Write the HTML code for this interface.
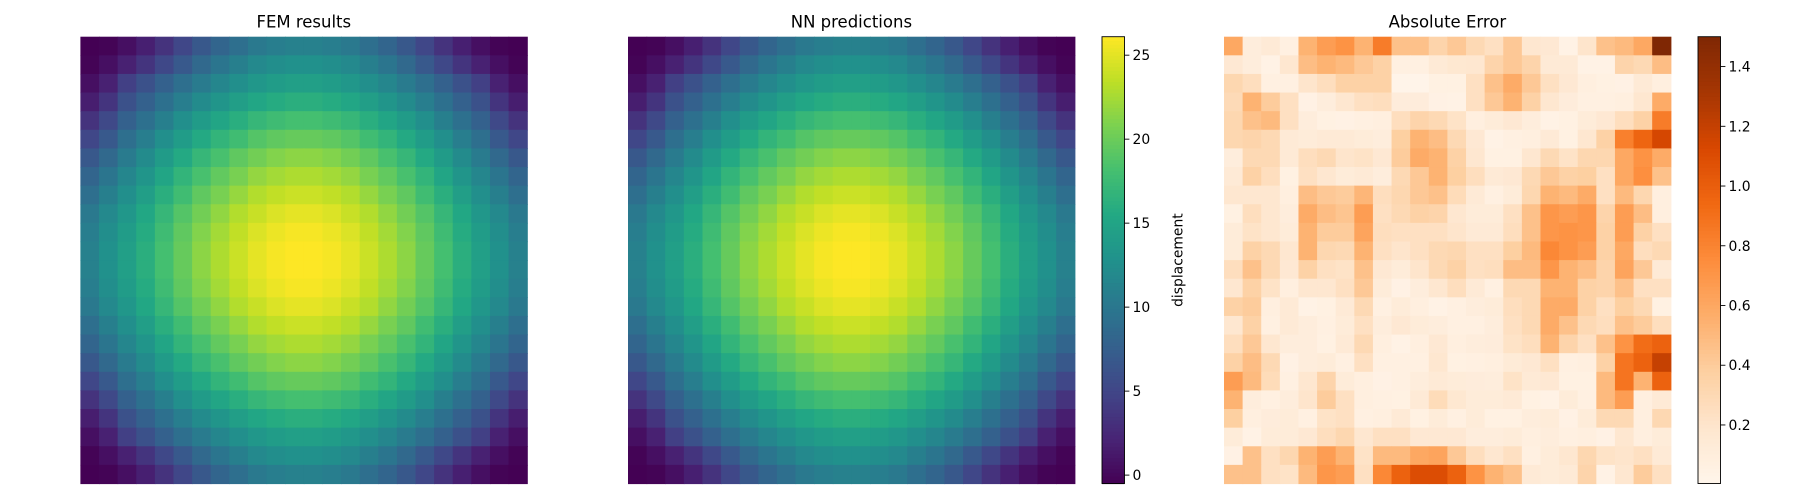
<!DOCTYPE html>
<html><head><meta charset="utf-8"><style>
html,body{margin:0;padding:0;background:#fff}
svg{display:block;font-family:"DejaVu Sans","Liberation Sans",sans-serif}
</style></head><body>
<svg id="fig" width="1800" height="500" viewBox="0 0 1800 500"></svg>
<script>
const femValues = [
[-0.5,-0.3,0.6,1.8,3.4,5.1,6.8,8.1,9.2,10.2,10.8,11.1,11.1,10.8,10.2,9.2,8.1,6.8,5.1,3.4,1.8,0.6,-0.3,-0.5],
[-0.3,0.6,1.9,3.5,5.2,6.9,8.5,9.8,10.9,11.9,12.5,12.8,12.8,12.5,11.9,10.9,9.8,8.5,6.9,5.2,3.5,1.9,0.6,-0.3],
[0.6,1.9,4.5,6.1,7.7,9.2,10.5,11.6,12.6,13.5,14.1,14.4,14.4,14.1,13.5,12.6,11.6,10.5,9.2,7.7,6.1,4.5,1.9,0.6],
[1.7,3.5,6.1,7.7,9.3,10.8,12.2,13.3,14.3,15.2,15.8,16.2,16.2,15.8,15.2,14.3,13.3,12.2,10.8,9.3,7.7,6.1,3.5,1.7],
[3.4,5.3,7.7,9.3,10.9,12.6,14.0,15.1,16.1,17.1,17.7,18.1,18.1,17.7,17.1,16.1,15.1,14.0,12.6,10.9,9.3,7.7,5.3,3.4],
[5.1,6.9,9.2,10.8,12.6,14.1,15.6,16.8,17.8,18.9,19.5,19.8,19.8,19.5,18.9,17.8,16.8,15.6,14.1,12.6,10.8,9.2,6.9,5.1],
[6.8,8.5,10.5,12.2,14.0,15.6,17.1,18.3,19.5,20.4,21.1,21.5,21.5,21.1,20.4,19.5,18.3,17.1,15.6,14.0,12.2,10.5,8.5,6.8],
[8.1,9.8,11.6,13.3,15.1,16.8,18.3,19.6,20.7,21.8,22.4,22.8,22.8,22.4,21.8,20.7,19.6,18.3,16.8,15.1,13.3,11.6,9.8,8.1],
[9.2,10.9,12.6,14.3,16.2,17.8,19.5,20.7,21.9,23.0,23.6,24.0,24.0,23.6,23.0,21.9,20.7,19.5,17.8,16.2,14.3,12.6,10.9,9.2],
[10.2,11.9,13.5,15.3,17.1,18.9,20.4,21.7,23.0,23.9,24.7,25.1,25.1,24.7,23.9,23.0,21.7,20.4,18.9,17.1,15.3,13.5,11.9,10.2],
[10.8,12.5,14.1,15.8,17.7,19.5,21.1,22.4,23.6,24.7,25.4,25.8,25.8,25.4,24.7,23.6,22.4,21.1,19.5,17.7,15.8,14.1,12.5,10.8],
[11.1,12.8,14.4,16.2,18.1,19.8,21.5,22.8,24.0,25.1,25.8,26.1,26.1,25.8,25.1,24.0,22.8,21.5,19.8,18.1,16.2,14.4,12.8,11.1],
[11.1,12.8,14.4,16.2,18.1,19.8,21.5,22.8,24.0,25.1,25.8,26.1,26.1,25.8,25.1,24.0,22.8,21.5,19.8,18.1,16.2,14.4,12.8,11.1],
[10.8,12.5,14.1,15.8,17.7,19.5,21.1,22.4,23.6,24.7,25.4,25.8,25.8,25.4,24.7,23.6,22.4,21.1,19.5,17.7,15.8,14.1,12.5,10.8],
[10.2,11.9,13.5,15.3,17.1,18.9,20.4,21.7,23.0,23.9,24.7,25.1,25.1,24.7,23.9,23.0,21.7,20.4,18.9,17.1,15.3,13.5,11.9,10.2],
[9.2,10.9,12.6,14.3,16.2,17.8,19.5,20.7,21.9,23.0,23.6,24.0,24.0,23.6,23.0,21.9,20.7,19.5,17.8,16.2,14.3,12.6,10.9,9.2],
[8.1,9.8,11.6,13.3,15.1,16.8,18.3,19.6,20.7,21.8,22.4,22.8,22.8,22.4,21.8,20.7,19.6,18.3,16.8,15.1,13.3,11.6,9.8,8.1],
[6.8,8.5,10.5,12.2,14.0,15.6,17.1,18.3,19.5,20.4,21.1,21.5,21.5,21.1,20.4,19.5,18.3,17.1,15.6,14.0,12.2,10.5,8.5,6.8],
[5.1,6.9,9.2,10.8,12.6,14.1,15.6,16.8,17.8,18.9,19.5,19.8,19.8,19.5,18.9,17.8,16.8,15.6,14.1,12.6,10.8,9.2,6.9,5.1],
[3.4,5.3,7.7,9.3,10.9,12.6,14.0,15.1,16.1,17.1,17.7,18.1,18.1,17.7,17.1,16.1,15.1,14.0,12.6,10.9,9.3,7.7,5.3,3.4],
[1.7,3.5,6.1,7.7,9.3,10.8,12.2,13.3,14.3,15.2,15.8,16.2,16.2,15.8,15.2,14.3,13.3,12.2,10.8,9.3,7.7,6.1,3.5,1.7],
[0.6,1.9,4.5,6.1,7.7,9.2,10.5,11.6,12.6,13.5,14.1,14.4,14.4,14.1,13.5,12.6,11.6,10.5,9.2,7.7,6.1,4.5,1.9,0.6],
[-0.3,0.6,1.9,3.5,5.2,6.9,8.5,9.8,10.9,11.9,12.5,12.8,12.8,12.5,11.9,10.9,9.8,8.5,6.9,5.2,3.5,1.9,0.6,-0.3],
[-0.5,-0.3,0.6,1.8,3.4,5.1,6.8,8.1,9.2,10.2,10.8,11.1,11.1,10.8,10.2,9.2,8.1,6.8,5.1,3.4,1.8,0.6,-0.3,-0.5]
];
const nnValues = [
[-0.5,-0.3,0.6,1.8,3.4,5.1,6.8,8.1,9.2,10.2,10.8,11.1,11.1,10.8,10.2,9.2,8.1,6.8,5.1,3.4,1.8,0.6,-0.3,-0.5],
[-0.3,0.6,1.9,3.5,5.2,6.9,8.5,9.8,10.9,11.9,12.5,12.8,12.8,12.5,11.9,10.9,9.8,8.5,6.9,5.2,3.5,1.9,0.6,-0.3],
[0.6,1.9,4.5,6.1,7.7,9.2,10.5,11.6,12.6,13.5,14.1,14.4,14.4,14.1,13.5,12.6,11.6,10.5,9.2,7.7,6.1,4.5,1.9,0.6],
[1.7,3.5,6.1,7.7,9.3,10.8,12.2,13.3,14.3,15.2,15.8,16.2,16.2,15.8,15.2,14.3,13.3,12.2,10.8,9.3,7.7,6.1,3.5,1.7],
[3.4,5.3,7.7,9.3,10.9,12.6,14.0,15.1,16.1,17.1,17.7,18.1,18.1,17.7,17.1,16.1,15.1,14.0,12.6,10.9,9.3,7.7,5.3,3.4],
[5.1,6.9,9.2,10.8,12.6,14.1,15.6,16.8,17.8,18.9,19.5,19.8,19.8,19.5,18.9,17.8,16.8,15.6,14.1,12.6,10.8,9.2,6.9,5.1],
[6.8,8.5,10.5,12.2,14.0,15.6,17.1,18.3,19.5,20.4,21.1,21.5,21.5,21.1,20.4,19.5,18.3,17.1,15.6,14.0,12.2,10.5,8.5,6.8],
[8.1,9.8,11.6,13.3,15.1,16.8,18.3,19.6,20.7,21.8,22.4,22.8,22.8,22.4,21.8,20.7,19.6,18.3,16.8,15.1,13.3,11.6,9.8,8.1],
[9.2,10.9,12.6,14.3,16.2,17.8,19.5,20.7,21.9,23.0,23.6,24.0,24.0,23.6,23.0,21.9,20.7,19.5,17.8,16.2,14.3,12.6,10.9,9.2],
[10.2,11.9,13.5,15.3,17.1,18.9,20.4,21.7,23.0,23.9,24.7,25.1,25.1,24.7,23.9,23.0,21.7,20.4,18.9,17.1,15.3,13.5,11.9,10.2],
[10.8,12.5,14.1,15.8,17.7,19.5,21.1,22.4,23.6,24.7,25.4,25.8,25.8,25.4,24.7,23.6,22.4,21.1,19.5,17.7,15.8,14.1,12.5,10.8],
[11.1,12.8,14.4,16.2,18.1,19.8,21.5,22.8,24.0,25.1,25.8,26.1,26.1,25.8,25.1,24.0,22.8,21.5,19.8,18.1,16.2,14.4,12.8,11.1],
[11.1,12.8,14.4,16.2,18.1,19.8,21.5,22.8,24.0,25.1,25.8,26.1,26.1,25.8,25.1,24.0,22.8,21.5,19.8,18.1,16.2,14.4,12.8,11.1],
[10.8,12.5,14.1,15.8,17.7,19.5,21.1,22.4,23.6,24.7,25.4,25.8,25.8,25.4,24.7,23.6,22.4,21.1,19.5,17.7,15.8,14.1,12.5,10.8],
[10.2,11.9,13.5,15.3,17.1,18.9,20.4,21.7,23.0,23.9,24.7,25.1,25.1,24.7,23.9,23.0,21.7,20.4,18.9,17.1,15.3,13.5,11.9,10.2],
[9.2,10.9,12.6,14.3,16.2,17.8,19.5,20.7,21.9,23.0,23.6,24.0,24.0,23.6,23.0,21.9,20.7,19.5,17.8,16.2,14.3,12.6,10.9,9.2],
[8.1,9.8,11.6,13.3,15.1,16.8,18.3,19.6,20.7,21.8,22.4,22.8,22.8,22.4,21.8,20.7,19.6,18.3,16.8,15.1,13.3,11.6,9.8,8.1],
[6.8,8.5,10.5,12.2,14.0,15.6,17.1,18.3,19.5,20.4,21.1,21.5,21.5,21.1,20.4,19.5,18.3,17.1,15.6,14.0,12.2,10.5,8.5,6.8],
[5.1,6.9,9.2,10.8,12.6,14.1,15.6,16.8,17.8,18.9,19.5,19.8,19.8,19.5,18.9,17.8,16.8,15.6,14.1,12.6,10.8,9.2,6.9,5.1],
[3.4,5.3,7.7,9.3,10.9,12.6,14.0,15.1,16.1,17.1,17.7,18.1,18.1,17.7,17.1,16.1,15.1,14.0,12.6,10.9,9.3,7.7,5.3,3.4],
[1.7,3.5,6.1,7.7,9.3,10.8,12.2,13.3,14.3,15.2,15.8,16.2,16.2,15.8,15.2,14.3,13.3,12.2,10.8,9.3,7.7,6.1,3.5,1.7],
[0.6,1.9,4.5,6.1,7.7,9.2,10.5,11.6,12.6,13.5,14.1,14.4,14.4,14.1,13.5,12.6,11.6,10.5,9.2,7.7,6.1,4.5,1.9,0.6],
[-0.3,0.6,1.9,3.5,5.2,6.9,8.5,9.8,10.9,11.9,12.5,12.8,12.8,12.5,11.9,10.9,9.8,8.5,6.9,5.2,3.5,1.9,0.6,-0.3],
[-0.5,-0.3,0.6,1.8,3.4,5.1,6.8,8.1,9.2,10.2,10.8,11.1,11.1,10.8,10.2,9.2,8.1,6.8,5.1,3.4,1.8,0.6,-0.3,-0.5]
];
const errorValues = [
[0.6,0.1,0.14,0.07,0.54,0.66,0.72,0.54,0.84,0.46,0.46,0.34,0.42,0.3,0.24,0.42,0.18,0.16,0.04,0.2,0.46,0.5,0.6,1.5],
[0.16,0.1,0.04,0.18,0.48,0.54,0.5,0.42,0.36,0.07,0.07,0.14,0.17,0.18,0.34,0.42,0.34,0.14,0.14,0.04,0.04,0.34,0.3,0.48],
[0.32,0.26,0.07,0.07,0.2,0.26,0.36,0.36,0.36,0.02,0.02,0.06,0.06,0.24,0.46,0.58,0.42,0.24,0.16,0.08,0.06,0.05,0.14,0.08],
[0.29,0.54,0.4,0.24,0.05,0.1,0.18,0.24,0.26,0.11,0.11,0.05,0.04,0.24,0.42,0.54,0.36,0.18,0.11,0.07,0.07,0.08,0.18,0.58],
[0.32,0.46,0.5,0.24,0.1,0.06,0.05,0.07,0.08,0.26,0.34,0.3,0.22,0.08,0.12,0.16,0.1,0.04,0.06,0.12,0.16,0.26,0.36,0.84],
[0.32,0.34,0.3,0.14,0.12,0.14,0.14,0.12,0.1,0.38,0.54,0.48,0.3,0.16,0.04,0.07,0.08,0.14,0.06,0.18,0.36,0.82,0.96,1.14],
[0.1,0.3,0.3,0.14,0.26,0.3,0.2,0.22,0.16,0.4,0.58,0.54,0.36,0.18,0.06,0.06,0.18,0.3,0.22,0.32,0.32,0.6,0.72,0.58],
[0.14,0.36,0.26,0.06,0.24,0.18,0.12,0.14,0.1,0.3,0.42,0.54,0.38,0.26,0.14,0.16,0.3,0.42,0.36,0.38,0.24,0.6,0.74,0.46],
[0.18,0.18,0.18,0.08,0.48,0.42,0.4,0.52,0.26,0.32,0.42,0.46,0.28,0.14,0.07,0.12,0.32,0.54,0.5,0.58,0.24,0.5,0.32,0.08],
[0.06,0.26,0.18,0.1,0.58,0.48,0.44,0.66,0.24,0.3,0.36,0.34,0.18,0.12,0.12,0.24,0.46,0.7,0.66,0.7,0.34,0.66,0.48,0.08],
[0.12,0.22,0.18,0.12,0.54,0.4,0.4,0.62,0.26,0.24,0.24,0.24,0.2,0.14,0.14,0.26,0.46,0.7,0.72,0.7,0.36,0.66,0.36,0.24],
[0.12,0.36,0.3,0.18,0.54,0.32,0.3,0.54,0.24,0.2,0.24,0.3,0.32,0.24,0.24,0.38,0.5,0.78,0.72,0.66,0.36,0.6,0.26,0.3],
[0.26,0.46,0.3,0.16,0.36,0.24,0.22,0.46,0.16,0.12,0.2,0.3,0.36,0.24,0.26,0.48,0.48,0.7,0.54,0.48,0.34,0.62,0.42,0.14],
[0.18,0.36,0.22,0.08,0.18,0.18,0.24,0.42,0.12,0.05,0.1,0.18,0.26,0.14,0.07,0.3,0.3,0.54,0.54,0.36,0.34,0.46,0.24,0.24],
[0.36,0.4,0.08,0.14,0.04,0.06,0.14,0.3,0.07,0.12,0.08,0.04,0.07,0.1,0.12,0.26,0.3,0.58,0.58,0.36,0.24,0.38,0.3,0.06],
[0.18,0.36,0.07,0.14,0.1,0.07,0.12,0.24,0.1,0.16,0.12,0.1,0.07,0.07,0.1,0.24,0.3,0.58,0.46,0.3,0.26,0.46,0.4,0.26],
[0.26,0.42,0.18,0.1,0.1,0.06,0.14,0.3,0.08,0.04,0.08,0.16,0.08,0.1,0.11,0.22,0.26,0.54,0.34,0.24,0.46,0.72,0.92,0.98],
[0.36,0.48,0.3,0.05,0.1,0.12,0.07,0.24,0.07,0.07,0.07,0.18,0.06,0.07,0.08,0.13,0.16,0.24,0.07,0.08,0.36,0.88,0.98,1.2],
[0.66,0.5,0.28,0.07,0.18,0.34,0.12,0.08,0.05,0.07,0.1,0.14,0.12,0.11,0.1,0.22,0.14,0.16,0.06,0.06,0.5,0.88,0.54,0.98],
[0.54,0.1,0.07,0.1,0.2,0.4,0.24,0.08,0.07,0.06,0.14,0.28,0.17,0.12,0.12,0.14,0.06,0.04,0.12,0.07,0.5,0.66,0.08,0.14],
[0.38,0.08,0.11,0.12,0.07,0.22,0.24,0.07,0.08,0.14,0.06,0.12,0.07,0.12,0.06,0.06,0.1,0.12,0.05,0.12,0.3,0.3,0.08,0.31],
[0.12,0.04,0.12,0.12,0.16,0.26,0.32,0.18,0.24,0.24,0.16,0.16,0.16,0.1,0.1,0.12,0.08,0.1,0.07,0.08,0.05,0.18,0.08,0.12],
[0.05,0.46,0.24,0.32,0.54,0.66,0.54,0.22,0.5,0.5,0.6,0.62,0.42,0.26,0.18,0.24,0.07,0.12,0.18,0.32,0.22,0.2,0.24,0.14],
[0.46,0.46,0.24,0.22,0.5,0.7,0.66,0.24,0.78,0.98,1.1,1.1,0.98,0.72,0.54,0.46,0.14,0.12,0.14,0.34,0.04,0.18,0.4,0.24]
];
const dispTicks = [0,5,10,15,20,25];
const errTicks = [0.2,0.4,0.6,0.8,1.0,1.2,1.4];
const panelTitles = ["FEM results","NN predictions","Absolute Error"];

const NS = "http://www.w3.org/2000/svg";
const svg = document.getElementById('fig');
function mk(tag, attrs, parent){const e=document.createElementNS(NS,tag);for(const k in attrs)e.setAttribute(k,attrs[k]);(parent||svg).appendChild(e);return e;}
const VIR=["#440154","#482475","#414487","#355f8d","#2a788e","#21918c","#22a884","#44bf70","#7ad151","#bddf26","#fde725"];
const ORA=["#fff5eb","#fee6ce","#fdd0a2","#fdae6b","#fd8d3c","#f16913","#d94801","#a63603","#7f2704"];
function hx(h){return [1,3,5].map(i=>parseInt(h.substr(i,2),16));}
function cmap(stops,t){t=Math.max(0,Math.min(1,t));const n=stops.length-1;const f=t*n;const i=Math.min(n-1,Math.floor(f));const u=f-i;const a=hx(stops[i]),b=hx(stops[i+1]);return "rgb("+a.map((v,k)=>Math.round(v+(b[k]-v)*u)).join(",")+")";}
function mm(m){let lo=Infinity,hi=-Infinity;m.forEach(r=>r.forEach(v=>{lo=Math.min(lo,v);hi=Math.max(hi,v);}));return [lo,hi];}

const topY=36.7, size=446.8, bottomY=topY+size;
const panelX=[80.4,628,1224];
const dispRange=mm(femValues.concat(nnValues));
const errRange=[0.004, mm(errorValues)[1]];

function drawHeat(data,x0,stops,range,name,title){
  const g=mk('g',{});
  
  
  const rows=data.length, cols=data[0].length;
  const cw=size/cols, ch=size/rows;
  for(let r=0;r<rows;r++)for(let c=0;c<cols;c++){
    const cell=mk('rect',{x:(x0+c*cw).toFixed(2),y:(topY+r*ch).toFixed(2),width:(cw+0.6).toFixed(2),height:(ch+0.6).toFixed(2),fill:cmap(stops,(data[r][c]-range[0])/(range[1]-range[0]))},g);
    
    
  }
  const t=mk('text',{x:x0+size/2,y:topY-9,'text-anchor':'middle','font-size':'16.5',fill:'#000'});
  t.textContent=title;
  
  
}
function drawBar(x0,stops,range,ticks,name,fmt,label){
  const w=22.5;
  const g=mk('g',{});
  
  
  const n=120;
  for(let i=0;i<n;i++){
    const v0=i/n;
    mk('rect',{x:x0,y:(bottomY-(i+1)*size/n).toFixed(2),width:w,height:(size/n+0.6).toFixed(2),fill:cmap(stops,v0+0.5/n)},g);
  }
  mk('rect',{x:x0,y:topY,width:w,height:size,fill:'none',stroke:'#000','stroke-width':0.9},g);
  ticks.forEach(v=>{
    const y=bottomY-(v-range[0])/(range[1]-range[0])*size;
    mk('line',{x1:x0+w,x2:x0+w+4.9,y1:y,y2:y,stroke:'#000','stroke-width':0.9},g);
    const t=mk('text',{x:x0+w+8,y:y+5,'font-size':'13.9',fill:'#000'},g);
    t.textContent=fmt(v);
    
    
  });
  if(label){
    const cy=topY+size/2, lx=x0+w+58;
    const t=mk('text',{x:lx,y:cy,'font-size':'13.9','text-anchor':'middle',transform:'rotate(-90 '+lx+' '+cy+')',fill:'#000'},g);
    t.textContent=label;
    
    
  }
}
drawHeat(femValues,panelX[0],VIR,dispRange,'fem-heatmap',panelTitles[0]);
drawHeat(nnValues,panelX[1],VIR,dispRange,'nn-heatmap',panelTitles[1]);
drawHeat(errorValues,panelX[2],ORA,errRange,'error-heatmap',panelTitles[2]);
drawBar(1102,VIR,dispRange,dispTicks,'displacement-colorbar',v=>String(v),'displacement');
drawBar(1698,ORA,errRange,errTicks,'error-colorbar',v=>v.toFixed(1),null);
</script>
</body></html>
